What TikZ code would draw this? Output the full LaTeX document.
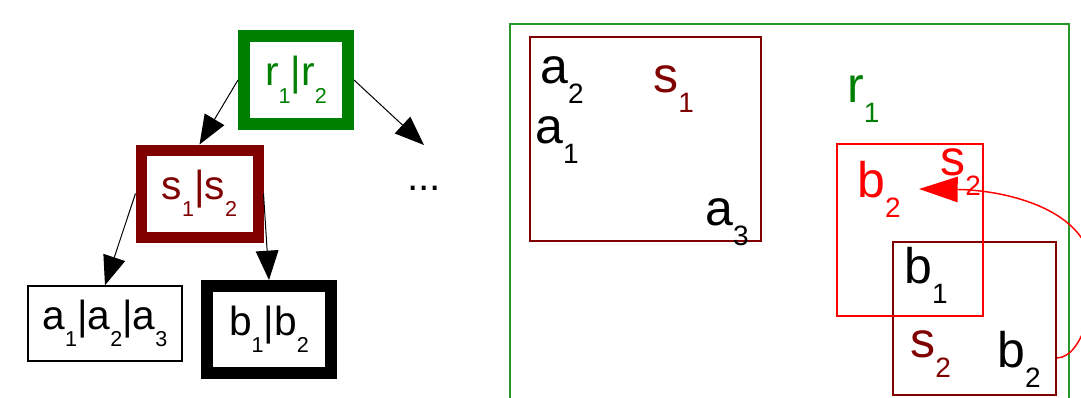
\documentclass[tikz,border=0pt]{standalone}
\usepackage{fontspec}
\setmainfont{Liberation Sans}
\usepackage{graphicx}
\usetikzlibrary{arrows.meta}
\definecolor{tgreen}{RGB}{0,128,0}
\definecolor{tdark}{RGB}{128,0,0}
\definecolor{tred}{RGB}{255,0,0}
\definecolor{framegreen}{RGB}{40,150,40}
\def\sbscale{0.56}
\def\sbdrop{0.4em}
\newcommand\sbs[1]{\raisebox{-\sbdrop}{\scalebox{\sbscale}{#1}}}
\begin{document}
\begin{tikzpicture}[x=0.75pt,y=-0.75pt,
  treefont/.style={font=\fontsize{30.5pt}{36pt}\selectfont\def\sbscale{0.53}\def\sbdrop{0.43em}},
  treebox/.style={draw, line width=9pt, inner sep=0pt, treefont},
  thinbox/.style={draw, line width=1.1pt, inner sep=0pt, treefont},
  arr/.style={-{Triangle[length=22pt,width=17pt]}, line width=0.75pt},
  redarr/.style={-{Triangle[length=29pt,width=19pt]}, line width=1.1pt, draw=tred},
  lbl/.style={anchor=base west, inner sep=0pt, font=\fontsize{37.5pt}{44pt}\selectfont},
  region/.style={line width=1.1pt}
]
\useasboundingbox (0,0) rectangle (1081,397);
\clip (0,0) rectangle (1081,397);
% tree
\node[treebox, draw=tgreen, text=tgreen, minimum width=78pt, minimum height=66pt] (r) at (296,80) {r\sbs{1}|r\sbs{2}};
\node[treebox, line width=8.25pt, draw=tdark, text=tdark, minimum width=87.75pt, minimum height=65.25pt] (s) at (199.5,193.5) {s\sbs{1}|s\sbs{2}};
\node[thinbox, minimum width=115.5pt, minimum height=56.25pt] (a) at (105,323.5) {a\sbs{1}|a\sbs{2}|a\sbs{3}};
\node[treebox, draw=black, minimum width=92.6pt, minimum height=65.25pt] (b) at (269,329.5) {b\sbs{1}|b\sbs{2}};
\node[anchor=base west, inner sep=0pt, treefont] (dots) at (407,190) {...};
\coordinate (rend) at (424,145);
\draw[arr] (r.west) -- (s.north);
\draw[arr] (r.east) -- (rend);
\draw[arr] (s.west) -- (a.north);
\draw[arr] (s.east) -- (b.north);
% regions
\draw[framegreen, region] (510,24) rectangle (1069,420);
\draw[tdark, region] (530,37) rectangle (761,241);
\draw[tdark, region] (893,242) rectangle (1056,395);
\draw[tred, region] (837,144) rectangle (983,316);
\node[lbl] (la2) at (540,83) {a\sbs{2}};
\node[lbl, text=tdark] (ls1) at (653,92) {s\sbs{1}};
\node[lbl] (la1) at (535,143) {a\sbs{1}};
\node[lbl] (la3) at (705,225) {a\sbs{3}};
\node[lbl, text=tgreen] (lr1) at (847,102) {r\sbs{1}};
\node[lbl, text=tred] (lb2r) at (857,197) {b\sbs{2}};
\node[lbl, text=tred] (ls2r) at (940,175) {s\sbs{2}};
\node[lbl] (lb1) at (904,283) {b\sbs{1}};
\node[lbl, text=tdark] (ls2) at (910,357) {s\sbs{2}};
\node[lbl] (lb2) at (997,367) {b\sbs{2}};
\coordinate (cs) at (1057,358);
\coordinate (ct) at (919,189);
\draw[redarr] (cs) .. controls (1085,357) and (1100,290) .. (1088,250) .. controls (1070,205) and (1000,190) .. (ct);
\end{tikzpicture}
\end{document}
